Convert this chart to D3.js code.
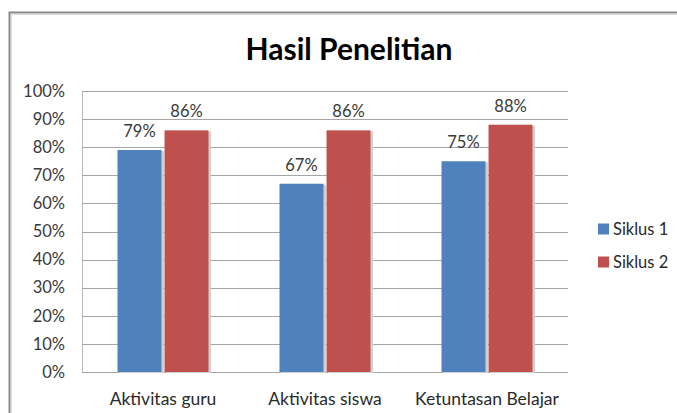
<!DOCTYPE html>
<html>
<head>
<meta charset="utf-8">
<script src="https://cdn.jsdelivr.net/npm/d3@7"></script>
<style>
  body { margin: 0; background: #fff; overflow: hidden; }
  svg { display: block; font-family: Lato, "Open Sans", sans-serif; }
</style>
</head>
<body>
<div id="chart"></div>
<script>
// data
const categories = ["Aktivitas guru", "Aktivitas siswa", "Ketuntasan Belajar"];
const seriesNames = ["Siklus 1", "Siklus 2"];
const siklus1 = [0.79, 0.67, 0.75];
const siklus2 = [0.86, 0.86, 0.88];
const yTicks = [0, 0.1, 0.2, 0.3, 0.4, 0.5, 0.6, 0.7, 0.8, 0.9, 1.0];
const colors = ["#4F81BD", "#C0504D"];

const W = 677, H = 413;
const plot = { left: 82, right: 568, top: 91, bottom: 372 };

const svg = d3.select("#chart").append("svg")
    .attr("width", W)
    .attr("height", H);

// outer chart frame: only top and left edges are in the picture
const frame = svg.append("g");
frame.append("path")
    .attr("d", `M9.5,${H}V12.5H${W}`)
    .attr("fill", "none")
    .attr("stroke", "#8a8a8a")
    .attr("stroke-width", 2);
frame.append("path")
    .attr("d", `M11.5,${H}V14.5H${W}`)
    .attr("fill", "none")
    .attr("stroke", "#dcdcdc")
    .attr("stroke-width", 1);

// title
svg.append("text")
    .attr("x", 349).attr("y", 60)
    .attr("text-anchor", "middle")
    .style("font-size", "30px")
    .style("font-weight", "bold")
    .style("fill", "#000")
    .text("Hasil Penelitian");

// scales
const y = d3.scaleLinear().domain([0, 1]).range([plot.bottom, plot.top]);
const x0 = d3.scaleBand().domain(categories).range([plot.left, plot.right]).padding(0);
const groupW = 91;
const x1 = d3.scaleBand().domain(seriesNames)
    .range([(x0.bandwidth() - groupW) / 2, (x0.bandwidth() + groupW) / 2])
    .paddingInner(0.065);

// gridlines
svg.append("g")
    .selectAll("line")
    .data(yTicks)
    .enter().append("line")
    .attr("x1", plot.left).attr("x2", plot.right)
    .attr("y1", d => Math.round(y(d)) + 0.5)
    .attr("y2", d => Math.round(y(d)) + 0.5)
    .attr("stroke", "#a6a6a6")
    .attr("stroke-width", 1.2);

// plot area left edge
svg.append("line")
    .attr("x1", plot.left + 0.5).attr("x2", plot.left + 0.5)
    .attr("y1", plot.top).attr("y2", plot.bottom)
    .attr("stroke", "#b8b8b8");

// y axis labels
const yAxis = d3.axisLeft(y)
    .tickValues(yTicks)
    .tickFormat(d3.format(".0%"))
    .tickSize(0)
    .tickPadding(17);
const gy = svg.append("g")
    .attr("transform", `translate(${plot.left},0)`)
    .call(yAxis);
gy.select(".domain").remove();
gy.selectAll("text")
    .style("font-size", "16.5px")
    .style("font-family", "Lato, sans-serif")
    .style("fill", "#3a3a3a");

// x axis labels
const xAxis = d3.axisBottom(x0).tickSize(0).tickPadding(21);
const gx = svg.append("g")
    .attr("transform", `translate(0,${plot.bottom})`)
    .call(xAxis);
gx.select(".domain").remove();
gx.selectAll("text")
    .style("font-size", "17.5px")
    .style("font-family", "Lato, sans-serif")
    .style("fill", "#2a2a2a");

// bars
const rows = categories.map((c, i) => ({
    cat: c,
    vals: [
        { name: seriesNames[0], v: siklus1[i], color: colors[0] },
        { name: seriesNames[1], v: siklus2[i], color: colors[1] }
    ]
}));

const groups = svg.append("g")
    .selectAll("g")
    .data(rows)
    .enter().append("g")
    .attr("transform", d => `translate(${x0(d.cat)},0)`);

// soft shadow behind each bar
groups.selectAll("rect.shadow")
    .data(d => d.vals)
    .enter().append("rect")
    .attr("class", "shadow")
    .attr("x", d => x1(d.name) + 1.5)
    .attr("y", d => y(d.v) + 1)
    .attr("width", x1.bandwidth() + 1)
    .attr("height", d => y(0) - y(d.v))
    .attr("fill", "#d0d0d0");

groups.selectAll("rect.bar")
    .data(d => d.vals)
    .enter().append("rect")
    .attr("class", "bar")
    .attr("x", d => x1(d.name))
    .attr("y", d => y(d.v))
    .attr("width", x1.bandwidth())
    .attr("height", d => y(0) - y(d.v))
    .attr("fill", d => d.color);

// value labels
groups.selectAll("text.val")
    .data(d => d.vals)
    .enter().append("text")
    .attr("class", "val")
    .attr("x", d => x1(d.name) + x1.bandwidth() / 2)
    .attr("y", d => y(d.v) - 13)
    .attr("text-anchor", "middle")
    .style("font-size", "16.5px")
    .style("fill", "#3a3a3a")
    .text(d => d3.format(".0%")(d.v));

// legend
const legend = svg.append("g")
    .selectAll("g")
    .data(seriesNames)
    .enter().append("g")
    .attr("transform", (d, i) => `translate(598,${229 + i * 33})`);
legend.append("rect")
    .attr("x", 0).attr("y", -5.5)
    .attr("width", 11).attr("height", 11)
    .attr("fill", (d, i) => colors[i]);
legend.append("text")
    .attr("x", 15).attr("y", 0)
    .attr("dy", "0.36em")
    .style("font-size", "16.5px")
    .style("fill", "#2a2a2a")
    .text(d => d);
</script>
</body>
</html>
